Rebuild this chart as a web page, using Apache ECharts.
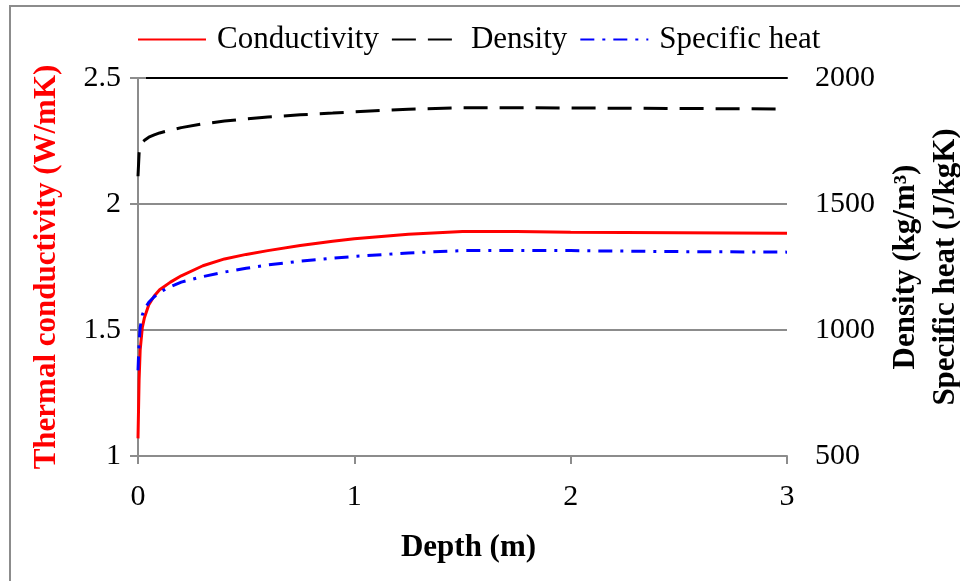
<!DOCTYPE html>
<html>
<head>
<meta charset="utf-8">
<script src="https://cdn.jsdelivr.net/npm/echarts@6/dist/echarts.min.js"></script>
<style>
  html, body { margin: 0; padding: 0; background: #fff; }
  #chart { width: 960px; height: 581px; }
</style>
</head>
<body>
<div id="chart"></div>
<script>
// depth in m
const depth = [0, 0.005, 0.01, 0.02, 0.03, 0.05, 0.075, 0.1, 0.15, 0.2, 0.3, 0.4, 0.5, 0.6, 0.75, 0.9, 1, 1.25, 1.5, 1.75, 2, 2.5, 3];
// W/mK, left axis
const conductivity = [1.07, 1.3, 1.42, 1.51, 1.55, 1.6, 1.635, 1.66, 1.69, 1.715, 1.755, 1.782, 1.8, 1.815, 1.835, 1.852, 1.862, 1.88, 1.891, 1.891, 1.888, 1.886, 1.884];
// kg/m3, right axis
const density = [1610, 1700, 1725, 1745, 1753, 1765, 1774, 1782, 1793, 1803, 1818, 1829, 1838, 1845, 1854, 1861, 1866, 1876, 1882, 1882, 1881, 1879, 1877];
// J/kgK, right axis
const specificHeat = [840, 950, 1010, 1060, 1082, 1110, 1132, 1150, 1172, 1190, 1212, 1230, 1245, 1258, 1273, 1285, 1292, 1306, 1315, 1316, 1315, 1311, 1309];

const font = 'Liberation Serif';
const gray = '#8c8c8c';

function pairs(vals) {
  return depth.map((d, i) => [d, vals[i]]);
}

const chart = echarts.init(document.getElementById('chart'));
chart.setOption({
  backgroundColor: '#fff',
  animation: false,
  textStyle: { fontFamily: font },
  graphic: [{
    type: 'rect',
    shape: { x: 10, y: 6, width: 1000, height: 700 },
    style: { fill: 'none', stroke: gray, lineWidth: 2 }
  }],
  legend: {
    top: 24,
    left: 137,
    padding: 0,
    itemWidth: 68,
    itemHeight: 10,
    itemGap: 12,
    itemStyle: { opacity: 0 },
    textStyle: { fontFamily: font, fontSize: 31, color: '#000', padding: [0, 0, 0, 6] },
    data: ['Conductivity', 'Density', 'Specific heat']
  },
  grid: { left: 138, right: 173, top: 78, bottom: 125, outerBoundsMode: 'none', containLabel: false },
  xAxis: [{
    type: 'value',
    min: 0, max: 3, interval: 1,
    name: 'Depth (m)',
    nameLocation: 'middle',
    nameGap: 76,
    nameTextStyle: { fontFamily: font, fontSize: 31, fontWeight: 'bold', color: '#000', padding: [0, 0, 0, 12] },
    axisLine: { lineStyle: { color: gray, width: 2 } },
    axisTick: { show: true, length: 8, lineStyle: { color: gray, width: 2 } },
    axisLabel: { margin: 26, fontFamily: font, fontSize: 30, color: '#000' },
    splitLine: { show: false }
  }, {
    type: 'value',
    position: 'top',
    min: 0, max: 3,
    axisLine: { show: true, lineStyle: { color: '#000', width: 2 } },
    axisTick: { show: false },
    axisLabel: { show: false },
    splitLine: { show: false }
  }],
  yAxis: [{
    type: 'value',
    min: 1, max: 2.5, interval: 0.5,
    name: 'Thermal conductivity (W/mK)',
    nameLocation: 'middle',
    nameGap: 76,
    nameTextStyle: { fontFamily: font, fontSize: 31, fontWeight: 'bold', color: '#ff0000' },
    axisLine: { show: true, lineStyle: { color: gray, width: 2 } },
    axisTick: { show: true, length: 8, lineStyle: { color: gray, width: 2 } },
    axisLabel: { margin: 17, fontFamily: font, fontSize: 30, color: '#000' },
    splitLine: { lineStyle: { color: gray, width: 2 } }
  }, {
    type: 'value',
    min: 500, max: 2000, interval: 500,
    position: 'right',
    name: 'Density (kg/m³)\nSpecific heat (J/kgK)',
    nameLocation: 'middle',
    nameRotate: 90,
    nameGap: 99,
    nameTextStyle: { fontFamily: font, fontSize: 31, fontWeight: 'bold', color: '#000', lineHeight: 40 },
    axisLine: { show: true, lineStyle: { color: gray, width: 2 } },
    axisTick: { show: true, length: 8, lineStyle: { color: gray, width: 2 } },
    axisLabel: { margin: 28, fontFamily: font, fontSize: 30, color: '#000', formatter: v => String(v) },
    splitLine: { show: false }
  }],
  series: [{
    name: 'Conductivity',
    type: 'line',
    yAxisIndex: 0,
    symbol: 'none',
    itemStyle: { color: '#ff0000' },
    lineStyle: { color: '#ff0000', width: 3, type: 'solid' },
    data: pairs(conductivity)
  }, {
    name: 'Density',
    type: 'line',
    yAxisIndex: 1,
    symbol: 'none',
    itemStyle: { color: '#000' },
    lineStyle: { color: '#000', width: 3, type: [24, 12] },
    data: pairs(density)
  }, {
    name: 'Specific heat',
    type: 'line',
    yAxisIndex: 1,
    symbol: 'none',
    itemStyle: { color: '#0000ff' },
    lineStyle: { color: '#0000ff', width: 3, type: [14, 8, 3, 8] },
    data: pairs(specificHeat)
  }]
});
</script>
</body>
</html>
